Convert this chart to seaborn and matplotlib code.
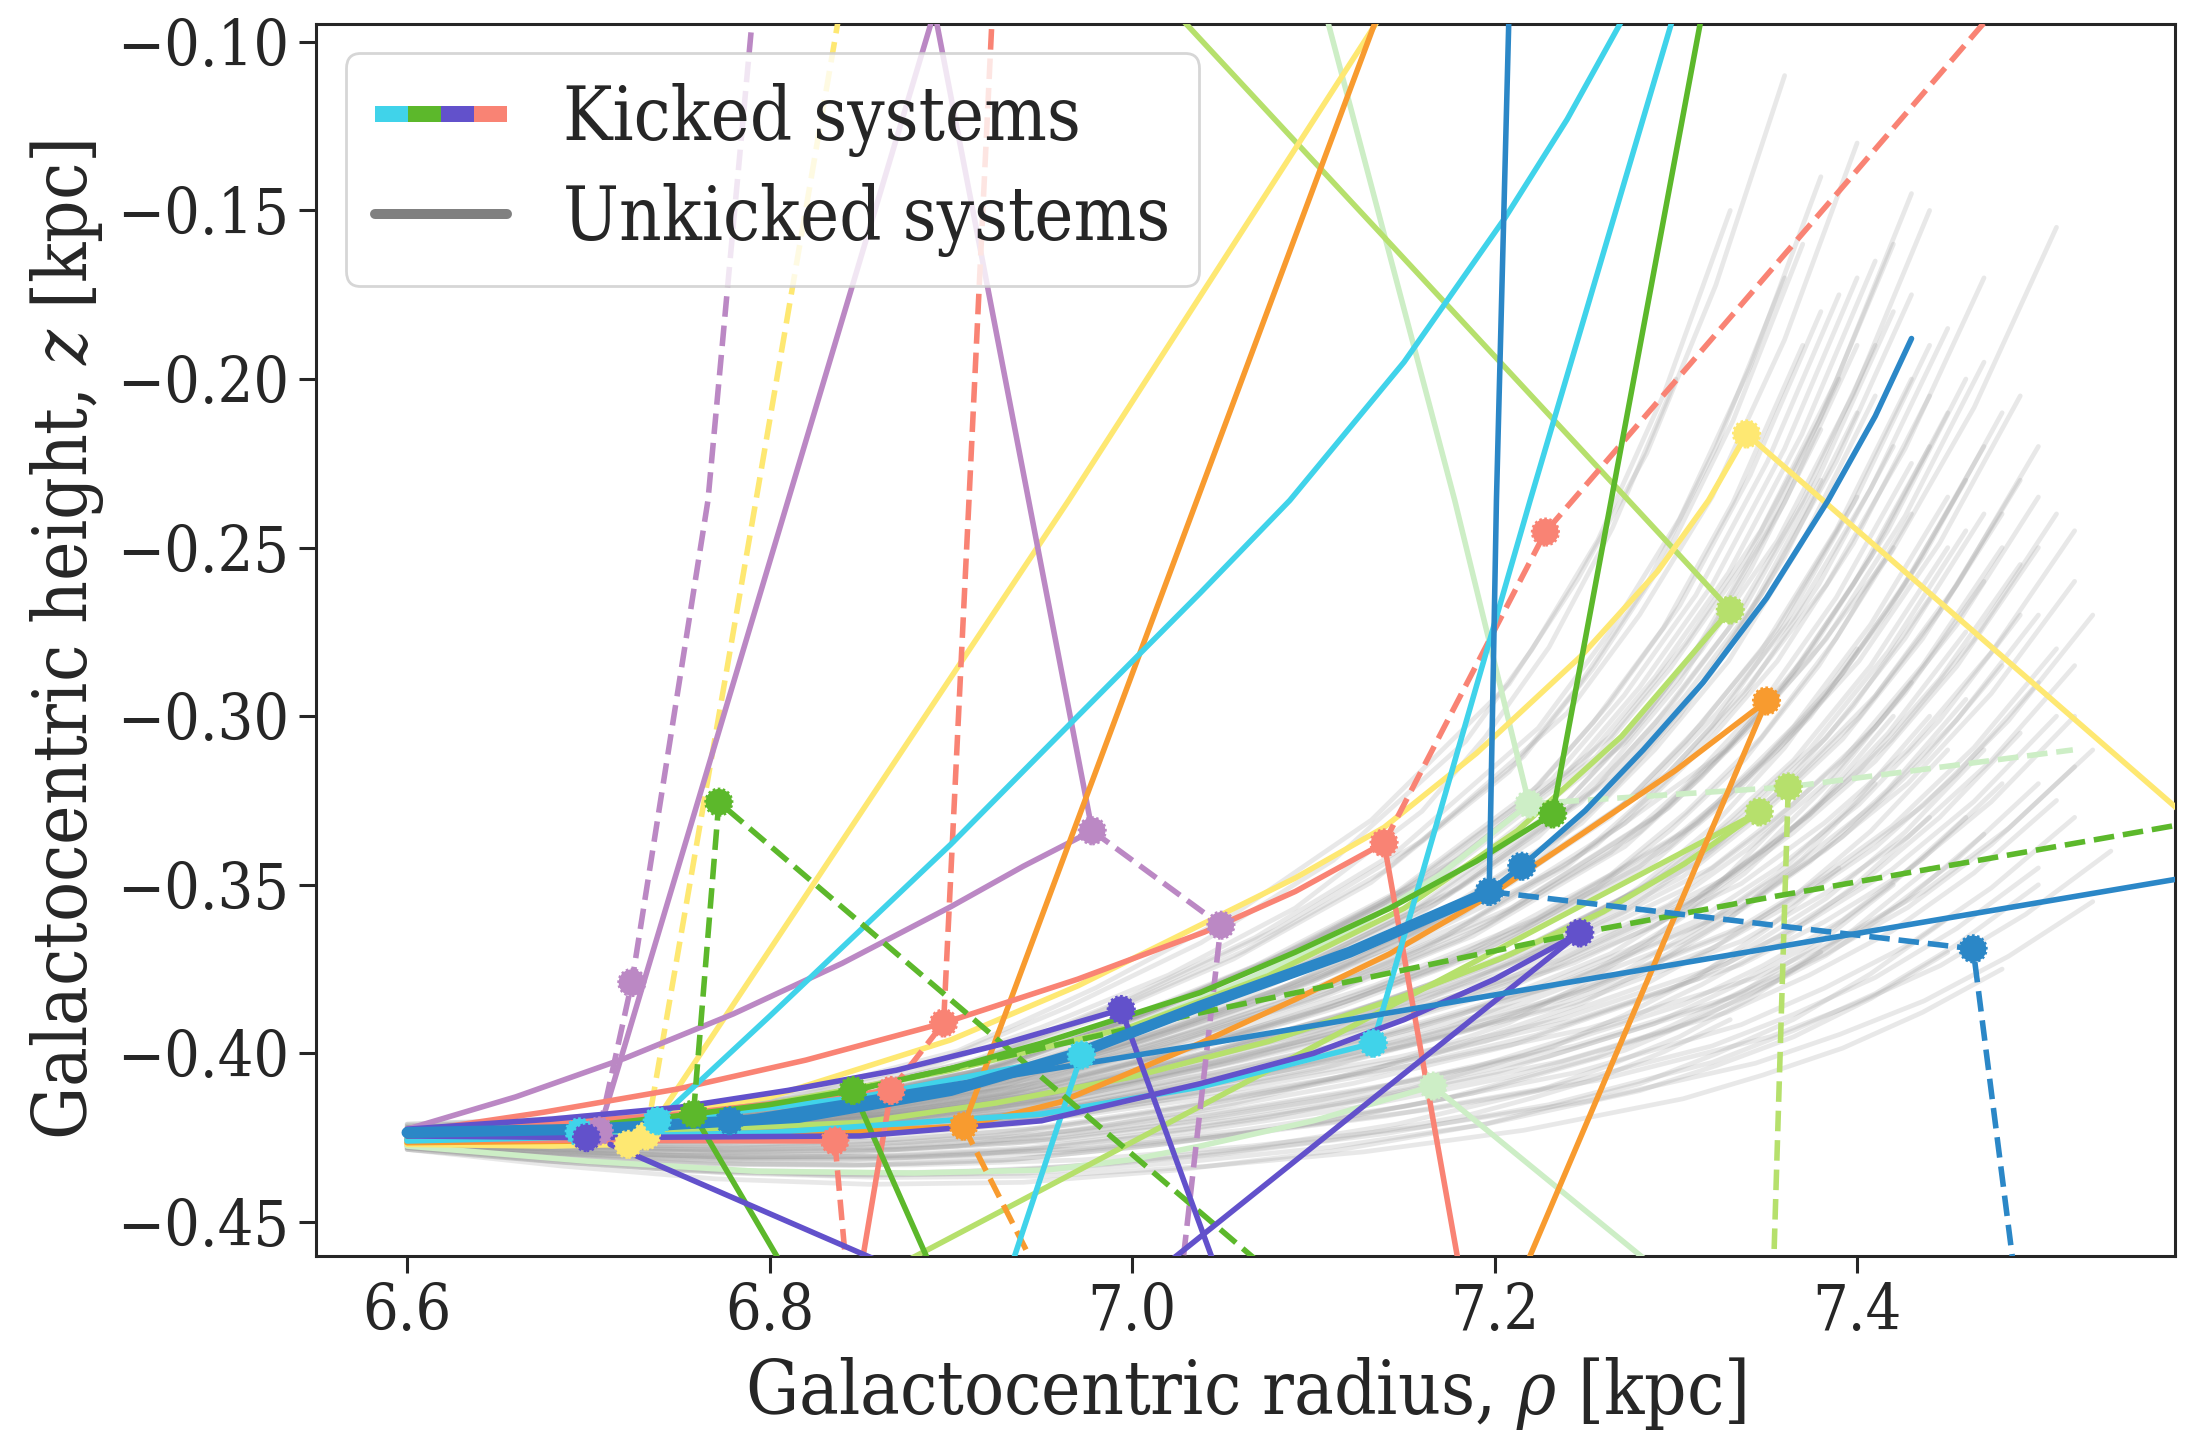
import seaborn as sns
import matplotlib.pyplot as plt
from matplotlib.patches import Rectangle
from matplotlib.lines import Line2D
from matplotlib.legend_handler import HandlerBase
from matplotlib.ticker import MultipleLocator

sns.set_style('ticks')
plt.rcParams['font.family'] = ['DejaVu Serif']
plt.rcParams['font.stretch'] = 'condensed'
plt.rcParams['mathtext.fontset'] = 'dejavuserif'

# colours of the kicked systems
c_cyan = '#40d3ea'
c_green = '#5cb82b'
c_violet = '#6251cb'
c_salmon = '#f98374'
c_lilac = '#bb88c4'
c_yellow = '#fee872'
c_lime = '#b6e06c'
c_pale = '#cdeec6'
c_orange = '#f89b2f'
c_blue = '#2b87c7'

# unkicked orbits: start height, end point and dip of each gray curve
gray_start_z = [-0.421, -0.4215, -0.421, -0.422, -0.4215, -0.422, -0.4225, -0.422, -0.423, -0.4225,
                -0.4225, -0.423, -0.4225, -0.4235, -0.423, -0.424, -0.4235, -0.424, -0.4235, -0.424,
                -0.4245, -0.424, -0.4245, -0.4245, -0.425, -0.4245, -0.425, -0.425, -0.4255, -0.425,
                -0.4255, -0.4255, -0.426, -0.4255, -0.426, -0.426, -0.4265, -0.4265, -0.427, -0.4265,
                -0.426, -0.4265, -0.427, -0.427, -0.4275, -0.4275, -0.428, -0.4285, -0.428, -0.4285,
                -0.422, -0.4235, -0.4225, -0.424, -0.4235, -0.422, -0.4245, -0.4225, -0.425, -0.423,
                -0.424, -0.4255, -0.423, -0.425, -0.426, -0.4235, -0.4255, -0.4245, -0.4265, -0.426,
                -0.423, -0.424, -0.4245, -0.425, -0.4255, -0.424, -0.4235, -0.4245, -0.426, -0.4265,
                -0.425, -0.4255, -0.426, -0.4265, -0.427, -0.4255, -0.426, -0.4265, -0.427, -0.4275,
                -0.426, -0.4265, -0.427, -0.4275, -0.428, -0.4265, -0.427, -0.4275, -0.428, -0.4285]
gray_end_rho = [7.30, 7.33, 7.36, 7.38, 7.40, 7.42, 7.43, 7.44, 7.47, 7.51,
                7.36, 7.37, 7.38, 7.39, 7.40, 7.40, 7.41, 7.42, 7.42, 7.43,
                7.43, 7.44, 7.44, 7.45, 7.45, 7.46, 7.46, 7.47, 7.47, 7.48,
                7.48, 7.49, 7.49, 7.50, 7.50, 7.51, 7.51, 7.52, 7.52, 7.53,
                7.44, 7.47, 7.50, 7.46, 7.52, 7.44, 7.50, 7.45, 7.38, 7.33,
                7.37, 7.38, 7.39, 7.40, 7.41, 7.41, 7.42, 7.43, 7.44, 7.45,
                7.45, 7.46, 7.47, 7.48, 7.48, 7.49, 7.50, 7.50, 7.51, 7.52,
                7.40, 7.43, 7.46, 7.49, 7.52, 7.38, 7.44, 7.47, 7.50, 7.53,
                7.40, 7.43, 7.46, 7.49, 7.52, 7.42, 7.45, 7.48, 7.51, 7.54,
                7.41, 7.44, 7.47, 7.50, 7.53, 7.36, 7.39, 7.42, 7.45, 7.48]
gray_end_z = [-0.20, -0.15, -0.11, -0.14, -0.13, -0.16, -0.145, -0.15, -0.17, -0.155,
              -0.17, -0.19, -0.18, -0.20, -0.17, -0.21, -0.19, -0.22, -0.18, -0.20,
              -0.24, -0.19, -0.22, -0.21, -0.25, -0.20, -0.23, -0.22, -0.26, -0.21,
              -0.24, -0.23, -0.27, -0.22, -0.25, -0.24, -0.28, -0.26, -0.30, -0.27,
              -0.30, -0.31, -0.32, -0.33, -0.33, -0.345, -0.35, -0.36, -0.37, -0.39,
              -0.16, -0.215, -0.175, -0.235, -0.205, -0.165, -0.25, -0.175, -0.265, -0.185,
              -0.235, -0.275, -0.195, -0.25, -0.285, -0.205, -0.27, -0.235, -0.30, -0.285,
              -0.19, -0.225, -0.245, -0.255, -0.245, -0.23, -0.205, -0.24, -0.29, -0.31,
              -0.28, -0.29, -0.295, -0.305, -0.315, -0.30, -0.31, -0.32, -0.325, -0.34,
              -0.32, -0.33, -0.335, -0.345, -0.355, -0.33, -0.345, -0.35, -0.37, -0.375]
gray_dip = [0, 0, 0, 0, 0, 0, 0, 0, 0, 0,
            0, 0, 0, 0, 0, 0, 0, 0, 0, 0,
            0, 0, 0, 0, 0, 0, 0, 0, 0, 0,
            0, 0, 0, 0, 0, 0, 0, 0, 0, 0,
            -0.004, -0.006, -0.006, -0.008, -0.008, -0.010, -0.012, -0.015, -0.012, -0.010,
            0, 0, 0, 0, 0, 0, 0, 0, 0, 0,
            0, 0, 0, 0, 0, 0, 0, 0, 0, 0,
            0, 0, 0, 0, 0, 0, 0, 0, 0, 0,
            -0.002, -0.003, -0.003, -0.004, -0.004, -0.004, -0.005, -0.006, -0.006, -0.007,
            -0.006, -0.007, -0.008, -0.008, -0.009, -0.008, -0.009, -0.010, -0.012, -0.012]
# orbit shape shared by the gray curves (fraction of the way in rho, in z, dip)
shape_t = [0, 0.1, 0.2, 0.3, 0.4, 0.5, 0.6, 0.7, 0.8, 0.85, 0.9, 0.95, 1.0]
shape_f = [0, 0.005, 0.015, 0.035, 0.07, 0.13, 0.20, 0.29, 0.42, 0.52, 0.64, 0.80, 1.0]
shape_g = [0, 0.35, 0.65, 0.85, 0.97, 1.0, 0.95, 0.82, 0.62, 0.48, 0.35, 0.18, 0]

# kicked systems: (rho, z) points of solid paths, dashed paths and kick markers
lilac_solid = [[(6.600, -0.4225), (6.660, -0.4129), (6.720, -0.4015), (6.780, -0.3883), (6.840, -0.3733),
                (6.900, -0.3565), (6.940, -0.3445), (6.978, -0.334)],
               [(6.706, -0.423), (6.891, -0.091), (6.978, -0.334)]]
lilac_dashed = [[(6.706, -0.423), (6.724, -0.379), (6.766, -0.236), (6.791, -0.090)],
                [(6.978, -0.334), (7.049, -0.362), (7.028, -0.462)]]
lilac_marks = [(6.706, -0.423), (6.724, -0.379), (6.978, -0.334), (7.049, -0.362)]

salmon_solid = [[(6.600, -0.4235), (6.675, -0.4175), (6.750, -0.4105), (6.820, -0.402), (6.896, -0.391),
                 (6.970, -0.378), (7.040, -0.364), (7.090, -0.352), (7.139, -0.3376)],
                [(7.139, -0.3376), (7.180, -0.462)],
                [(6.867, -0.411), (6.851, -0.462)],
                [(6.600, -0.4255), (6.700, -0.4258), (6.836, -0.426)],
                [(6.600, -0.424), (6.750, -0.418), (6.867, -0.411)]]
salmon_dashed = [[(6.836, -0.426), (6.842, -0.462)],
                 [(6.867, -0.411), (6.896, -0.391), (6.910, -0.236), (6.923, -0.090)],
                 [(7.139, -0.3376), (7.228, -0.2454), (7.477, -0.090)]]
salmon_marks = [(6.836, -0.426), (6.867, -0.411), (6.896, -0.391), (7.139, -0.3376), (7.228, -0.2454)]

yellow_solid = [[(6.600, -0.4265), (6.650, -0.4245), (6.700, -0.4215), (6.800, -0.413), (6.900, -0.396),
                 (6.970, -0.380), (7.0375, -0.362), (7.090, -0.348), (7.139, -0.333), (7.190, -0.311),
                 (7.248, -0.282), (7.290, -0.257), (7.318, -0.236), (7.339, -0.2163)],
                [(7.339, -0.2163), (7.580, -0.329)],
                [(6.733, -0.4235), (6.965, -0.236), (7.140, -0.090)],
                [(6.600, -0.427), (6.680, -0.4275), (6.722, -0.427), (6.733, -0.4235)]]
yellow_dashed = [[(6.732, -0.4245), (6.7925, -0.236), (6.839, -0.090)]]
yellow_marks = [(6.722, -0.427), (6.732, -0.4245), (7.339, -0.2163)]

orange_solid = [[(6.600, -0.4265), (6.700, -0.426), (6.800, -0.4245), (6.907, -0.4216), (6.960, -0.4145),
                 (7.0375, -0.397), (7.090, -0.384), (7.142, -0.3705), (7.195, -0.354), (7.248, -0.335),
                 (7.300, -0.316), (7.350, -0.2955)],
                [(6.907, -0.4216), (7.137, -0.090)],
                [(7.350, -0.2955), (7.218, -0.462)]]
orange_dashed = [[(6.907, -0.4216), (6.945, -0.462)]]
orange_marks = [(6.907, -0.4216), (7.350, -0.2955)]

cyan_solid = [[(6.600, -0.4255), (6.695, -0.4233), (6.738, -0.420), (6.850, -0.413), (6.972, -0.4005)],
              [(6.738, -0.420), (6.800, -0.389), (6.900, -0.338), (6.970, -0.300), (7.0375, -0.2635),
               (7.087, -0.236), (7.150, -0.195), (7.206, -0.152), (7.240, -0.123), (7.274, -0.090)],
              [(6.972, -0.4005), (6.934, -0.462)],
              [(6.600, -0.426), (6.800, -0.4235), (6.950, -0.418), (7.0375, -0.410), (7.133, -0.397)],
              [(7.133, -0.397), (7.2196, -0.236), (7.300, -0.090)]]
cyan_dashed = []
cyan_marks = [(6.695, -0.4233), (6.738, -0.420), (6.972, -0.4005), (7.133, -0.397)]

green_solid = [[(6.600, -0.4245), (6.700, -0.4215), (6.758, -0.418), (6.800, -0.4152), (6.846, -0.411),
                (6.900, -0.4045), (6.950, -0.397), (7.0375, -0.382), (7.090, -0.370), (7.142, -0.357),
                (7.190, -0.343), (7.232, -0.329)],
               [(7.232, -0.329), (7.315, -0.090)],
               [(6.758, -0.418), (6.806, -0.462)],
               [(6.846, -0.411), (6.888, -0.462)]]
green_dashed = [[(6.758, -0.418), (6.772, -0.3255), (7.070, -0.462)],
                [(6.846, -0.411), (7.0375, -0.388), (7.247, -0.3643), (7.353, -0.3536), (7.580, -0.332)]]
green_marks = [(6.758, -0.418), (6.772, -0.3255), (6.846, -0.411), (7.232, -0.329)]

lime_solid = [[(7.020, -0.089), (7.330, -0.2685)],
              [(6.600, -0.424), (6.700, -0.4205), (6.800, -0.415), (6.900, -0.405), (7.000, -0.392),
               (7.075, -0.377), (7.150, -0.357), (7.2125, -0.334), (7.270, -0.306), (7.330, -0.2685)],
              [(6.874, -0.462), (7.346, -0.3284)],
              [(6.600, -0.4255), (6.725, -0.4235), (6.850, -0.4205), (6.925, -0.4147), (7.000, -0.407),
               (7.075, -0.3965), (7.150, -0.383), (7.205, -0.3715), (7.260, -0.358), (7.305, -0.3437),
               (7.346, -0.3284)]]
lime_dashed = [[(7.362, -0.321), (7.354, -0.462)]]
lime_marks = [(7.330, -0.2685), (7.346, -0.3284), (7.362, -0.321)]

pale_solid = [[(7.106, -0.090), (7.178, -0.236), (7.219, -0.326)],
              [(6.600, -0.4275), (6.700, -0.432), (6.794, -0.435), (6.880, -0.4355), (6.953, -0.4346),
               (7.000, -0.4315), (7.0375, -0.4275), (7.100, -0.420), (7.166, -0.4097)],
              [(7.166, -0.4097), (7.285, -0.462)],
              [(6.600, -0.4245), (6.700, -0.421), (6.800, -0.416), (6.900, -0.405), (7.000, -0.392),
               (7.060, -0.379), (7.120, -0.364), (7.170, -0.347), (7.219, -0.326)]]
pale_dashed = [[(7.219, -0.326), (7.362, -0.321), (7.519, -0.310)]]
pale_marks = [(7.166, -0.4097), (7.219, -0.326)]

violet_solid = [[(6.600, -0.4225), (6.680, -0.4195), (6.750, -0.416), (6.810, -0.411), (6.870, -0.405),
                 (6.930, -0.397), (6.994, -0.387)],
                [(6.994, -0.387), (7.045, -0.462)],
                [(6.600, -0.4245), (6.699, -0.425), (6.850, -0.4245), (6.950, -0.420), (7.0375, -0.409),
                 (7.100, -0.400), (7.150, -0.390), (7.200, -0.378), (7.247, -0.3643)],
                [(6.712, -0.427), (6.862, -0.462)],
                [(7.247, -0.3643), (7.020, -0.462)]]
violet_dashed = []
violet_marks = [(6.699, -0.425), (6.994, -0.387), (7.247, -0.3643)]

blue_thick = [[(6.600, -0.4235), (6.700, -0.4225), (6.816, -0.419), (6.900, -0.411), (6.970, -0.400),
               (7.0375, -0.386), (7.120, -0.370), (7.197, -0.352)]]
blue_solid = [[(7.197, -0.352), (7.201, -0.236), (7.208, -0.090)],
              [(7.197, -0.352), (7.215, -0.3445), (7.250, -0.328), (7.282, -0.310), (7.315, -0.290),
               (7.350, -0.265), (7.384, -0.236), (7.410, -0.211), (7.430, -0.188)],
              [(6.778, -0.420), (7.0375, -0.3975), (7.580, -0.348)],
              [(6.600, -0.4235), (6.700, -0.4225), (6.778, -0.420)]]
blue_dashed = [[(7.197, -0.352), (7.464, -0.369), (7.486, -0.462)]]
blue_marks = [(6.778, -0.420), (7.197, -0.352), (7.215, -0.3445), (7.464, -0.369)]

systems = [
    (c_pale, pale_solid, pale_dashed, pale_marks),
    (c_lime, lime_solid, lime_dashed, lime_marks),
    (c_yellow, yellow_solid, yellow_dashed, yellow_marks),
    (c_lilac, lilac_solid, lilac_dashed, lilac_marks),
    (c_orange, orange_solid, orange_dashed, orange_marks),
    (c_salmon, salmon_solid, salmon_dashed, salmon_marks),
    (c_cyan, cyan_solid, cyan_dashed, cyan_marks),
    (c_green, green_solid, green_dashed, green_marks),
    (c_violet, violet_solid, violet_dashed, violet_marks),
    (c_blue, blue_solid, blue_dashed, blue_marks),
]

fig, ax = plt.subplots(figsize=(10.975, 7.215), dpi=200)
fig.subplots_adjust(left=0.144, right=0.991, bottom=0.1296, top=0.9834)

# gray unkicked orbits
for i in range(len(gray_end_rho)):
    rho = [6.6 + (gray_end_rho[i] - 6.6) * t for t in shape_t]
    zz = [gray_start_z[i] + (gray_end_z[i] - gray_start_z[i]) * f + gray_dip[i] * g
          for f, g in zip(shape_f, shape_g)]
    sns.lineplot(x=rho, y=zz, sort=False, estimator=None, color='0.6',
                 alpha=0.22, linewidth=1.7, zorder=1, ax=ax)


def draw_path(pts, color, ls='-', lw=2.0, z=3):
    rho = [p[0] for p in pts]
    zz = [p[1] for p in pts]
    sns.lineplot(x=rho, y=zz, sort=False, estimator=None, color=color,
                 linestyle=ls, linewidth=lw, zorder=z, ax=ax)


for color, solid, dashed, marks in systems:
    for p in solid:
        draw_path(p, color)
    for p in dashed:
        draw_path(p, color, ls='--')
for p in blue_thick:
    draw_path(p, c_blue, lw=4.0, z=4)

for color, solid, dashed, marks in systems:
    sns.scatterplot(x=[m[0] for m in marks], y=[m[1] for m in marks], color=color,
                    marker='o', s=90, edgecolor=color, linewidth=1.0,
                    linestyle=(0, (0.9, 0.9)), zorder=6, ax=ax, legend=False)

ax.set_xlim(6.5498, 7.5755)
ax.set_ylim(-0.4601, -0.0947)
ax.xaxis.set_major_locator(MultipleLocator(0.2))
ax.yaxis.set_major_locator(MultipleLocator(0.05))
ax.tick_params(labelsize=22.5, length=6, width=1.1)
for s in ax.spines.values():
    s.set_linewidth(1.1)
ax.set_xlabel(r'Galactocentric radius, $\rho$ [kpc]', fontsize=26.7)
ax.set_ylabel(r'Galactocentric height, $z$ [kpc]', fontsize=26.7)


class KickedHandle:
    colors = [c_cyan, c_green, c_violet, c_salmon]


class StripeHandler(HandlerBase):
    def create_artists(self, legend, orig_handle, xdescent, ydescent,
                       width, height, fontsize, trans):
        n = len(orig_handle.colors)
        w = width / n
        h = height * 0.3
        return [Rectangle((-xdescent + i * w, -ydescent + (height - h) / 2), w, h,
                          facecolor=c, edgecolor='none', transform=trans)
                for i, c in enumerate(orig_handle.colors)]


handles = [KickedHandle(), Line2D([], [], color='gray', linewidth=3.6)]
ax.legend(handles, ['Kicked systems', 'Unkicked systems'], loc='upper left',
          fontsize=26.5, handlelength=1.8, handletextpad=0.75, labelspacing=0.35,
          borderaxespad=0.4, handler_map={KickedHandle: StripeHandler()})

fig.savefig('out.png', dpi=200)
